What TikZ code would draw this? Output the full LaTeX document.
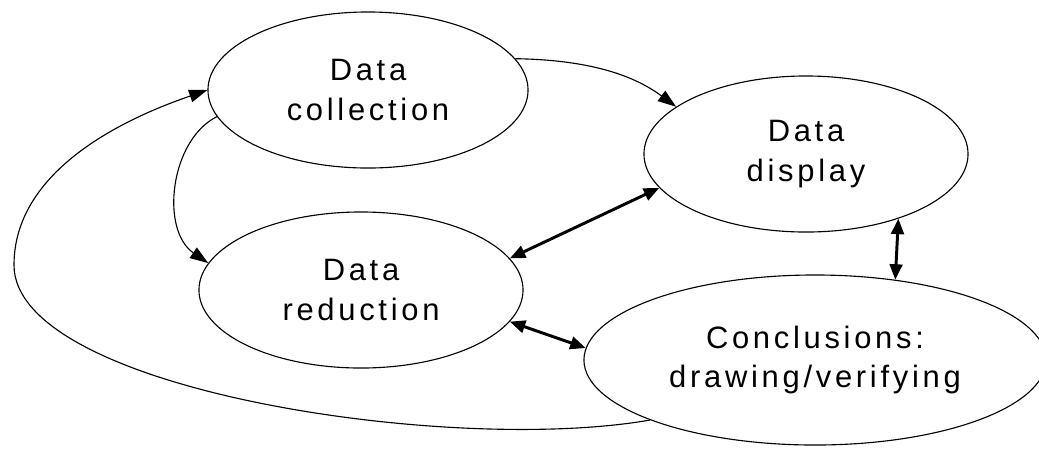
\documentclass[tikz,border=0pt]{standalone}
\usepackage{fontspec}
\setmainfont{Liberation Sans}[LetterSpace=12]
\usetikzlibrary{shapes.geometric,arrows.meta}
\tikzset{
  stage/.style={draw, ellipse, inner sep=0pt, align=center, line width=0.8pt,
    font=\fontsize{22}{28}\selectfont},
  flow/.style={line width=0.8pt, -{Triangle[length=13pt,width=9pt]}},
  link/.style={line width=2.1pt, {Triangle[length=11pt,width=9pt]}-{Triangle[length=11pt,width=9pt]}}
}
\begin{document}
\begin{tikzpicture}[x=0.025cm,y=-0.025cm]
	%%%%% START %%%%%
	\useasboundingbox (0,0) rectangle (1039,450);
	
	\node[stage, minimum width=8cm, minimum height=3.9cm] (coll) at (368,90) {Data\\collection};
	\node[stage, minimum width=8.1cm, minimum height=3.9cm] (disp) at (806,154) {Data\\display};
	\node[stage, minimum width=8.1cm, minimum height=3.9cm] (red) at (361,290) {Data\\reduction};
	\node[stage, minimum width=11.55cm, minimum height=4.25cm] (concl) at (815,360) {Conclusions:\\drawing/verifying};
	
	\draw[flow] (coll.12) .. controls (600,60) and (640,80) .. (disp.160);
	\draw[flow] (coll.190) .. controls (170,140) and (160,230) .. (red.170);
	
	\draw[link] (disp.193) -- (red.12);
	\draw[link] (red.-12) -- (concl.177);
	\draw[link] (disp.-35) -- (concl.45);
	
	\draw[flow] (concl.200) .. controls (450,455) and (14,390) .. (14,265)
		.. controls (14,160) and (150,110) .. (coll.180);
	
	%%%%% END %%%%%
\end{tikzpicture}
\end{document}
